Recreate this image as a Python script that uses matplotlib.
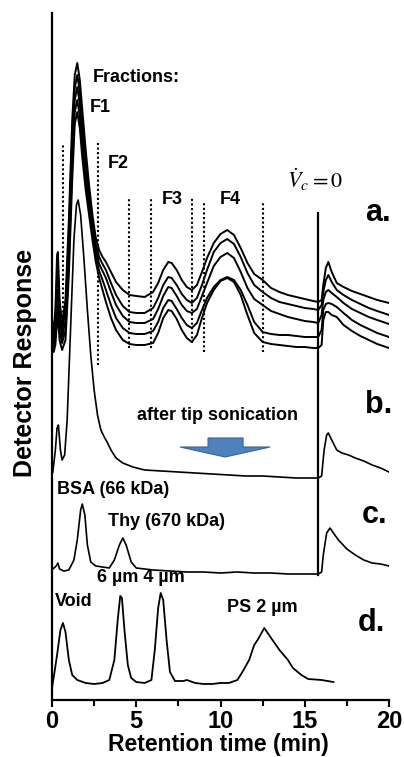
import matplotlib
matplotlib.use("Agg")
import matplotlib.pyplot as plt
from matplotlib.patches import Polygon

plt.rcParams['font.family'] = ['Liberation Sans', 'DejaVu Sans']
plt.rcParams['mathtext.fontset'] = 'stix'

# trace a: five repeated runs, stacked
a_t = [0.0, 0.1, 0.2, 0.3, 0.35, 0.45, 0.6, 0.8, 1.0, 1.2, 1.35, 1.5, 1.65, 1.8, 2.0, 2.2, 2.4, 2.6,
       2.8, 3.0, 3.2, 3.5, 3.8, 4.2, 4.6, 5.0, 5.5, 6.0, 6.3, 6.6, 6.9, 7.1, 7.4, 7.7, 8.0, 8.3, 8.6,
       8.9, 9.2, 9.6, 10.0, 10.4, 10.8, 11.2, 11.6, 12.0, 12.5, 13.0, 13.5, 14.0, 14.5, 15.0, 15.5,
       15.8, 16.0, 16.1, 16.25, 16.4, 16.6, 16.9, 17.3, 17.8, 18.3, 18.8, 19.3, 20.0]
a1 = [380, 370, 390, 445, 448, 400, 377, 400, 480, 580, 625, 637, 620, 590, 550, 515, 485, 462, 450,
      443, 438, 428, 418, 410, 405, 404, 403, 408, 417, 430, 438, 437, 430, 420, 413, 410, 415, 428,
      442, 457, 466, 470, 465, 452, 437, 426, 420, 412, 408, 405, 403, 401, 399, 398, 400, 415, 432,
      438, 428, 417, 413, 409, 406, 403, 400, 397]
a2 = [372, 362, 380, 425, 430, 390, 370, 390, 465, 565, 612, 625, 608, 578, 540, 507, 478, 456, 443,
      436, 430, 417, 405, 394, 388, 387, 387, 392, 402, 415, 423, 422, 415, 406, 400, 397, 402, 415,
      430, 448, 457, 461, 456, 443, 427, 415, 408, 402, 398, 396, 394, 392, 391, 390, 395, 408, 420,
      425, 418, 410, 405, 400, 396, 392, 389, 385]
a3 = [365, 357, 370, 405, 410, 380, 363, 380, 450, 550, 600, 613, 596, 566, 530, 500, 472, 450, 436,
      429, 422, 408, 395, 384, 378, 377, 377, 381, 391, 404, 413, 412, 404, 395, 389, 387, 391, 404,
      417, 434, 443, 447, 442, 428, 412, 401, 395, 389, 386, 383, 381, 379, 378, 377, 385, 400, 408,
      410, 407, 403, 397, 391, 387, 383, 380, 376]
a4 = [358, 352, 362, 390, 395, 370, 357, 370, 438, 535, 588, 600, 584, 554, 520, 492, 466, 444, 429,
      420, 410, 395, 382, 372, 367, 366, 366, 369, 378, 392, 400, 399, 391, 382, 375, 372, 377, 390,
      402, 413, 420, 423, 420, 410, 395, 378, 368, 366, 365, 365, 364, 363, 363, 363, 370, 390, 396,
      397, 396, 393, 387, 380, 375, 371, 367, 363]
a5 = [352, 348, 355, 380, 382, 360, 350, 360, 425, 520, 576, 588, 572, 542, 510, 485, 460, 438, 422,
      410, 398, 382, 370, 360, 356, 355, 355, 357, 367, 382, 390, 389, 381, 370, 362, 358, 365, 382,
      397, 410, 419, 422, 418, 405, 385, 367, 358, 356, 355, 354, 353, 353, 352, 352, 355, 380, 388,
      388, 385, 383, 375, 369, 364, 360, 356, 352]

# trace b: after tip sonication
b_t = [0.05, 0.2, 0.3, 0.38, 0.5, 0.6, 0.75, 0.9, 1.1, 1.3, 1.45, 1.55, 1.7, 1.9, 2.1, 2.3, 2.5, 2.7,
       2.9, 3.1, 3.3, 3.5, 3.8, 4.2, 4.8, 5.5, 6.5, 7.5, 8.5, 9.5, 10.5, 11.5, 12.5, 13.5, 14.5, 15.8,
       16.0, 16.15, 16.3, 16.4, 16.6, 16.9, 17.2, 17.6, 18.0, 18.5, 19.0, 19.5, 20.0]
b_y = [228, 250, 272, 275, 250, 240, 245, 280, 370, 460, 495, 500, 485, 440, 390, 345, 310, 285,
       270, 263, 257, 250, 242, 237, 233, 230, 229, 228, 227, 226, 225, 224, 224, 223, 222, 222,
       224, 250, 265, 267, 260, 250, 247, 245, 242, 239, 235, 232, 228]

# trace c: protein standards
c_t = [0.05, 0.25, 0.35, 0.45, 0.7, 1.0, 1.3, 1.5, 1.7, 1.8, 1.95, 2.1, 2.3, 2.6, 3.0, 3.4, 3.7, 4.0,
       4.2, 4.4, 4.7, 5.0, 6.0, 7.0, 8.0, 9.0, 10.0, 11.0, 12.0, 13.0, 14.0, 15.0, 15.8, 16.0, 16.1,
       16.3, 16.5, 16.7, 17.0, 17.5, 18.0, 18.5, 19.0, 19.5, 20.0]
c_y = [131, 134, 137, 131, 129, 130, 140, 160, 190, 196, 185, 155, 138, 134, 133, 132, 140, 155,
       162, 155, 138, 132, 130, 129, 128, 128, 127, 128, 127, 127, 126, 126, 126, 128, 145,
       167, 172, 167, 160, 151, 145, 140, 137, 136, 134]

# trace d: PS bead standards
d_t = [0.0, 0.15, 0.3, 0.5, 0.65, 0.8, 1.0, 1.2, 1.5, 2.0, 2.5, 3.0, 3.4, 3.7, 3.9, 4.05, 4.15, 4.3,
       4.5, 4.7, 5.0, 5.5, 5.9, 6.1, 6.3, 6.45, 6.6, 6.8, 7.0, 7.3, 7.8, 8.0, 8.5, 9.0, 9.5, 10.0,
       10.5, 11.0, 11.3, 11.7, 12.0, 12.2, 12.6, 13.0, 13.5, 14.0, 14.3, 14.8, 15.2, 16.0, 16.7]
d_y = [12, 28, 45, 70, 77, 68, 40, 25, 20, 17, 16, 17, 20, 40, 80, 104, 102, 70, 35, 22, 18, 17,
       20, 50, 92, 107, 100, 60, 28, 19, 19, 20, 17, 16, 16, 17, 17, 20, 28, 40, 55, 60, 72, 62,
       50, 40, 32, 25, 21, 20, 18]

# fraction cut positions (min) and their extents
cut_t = [0.65, 2.75, 4.55, 5.9, 8.3, 9.0, 12.5]
cut_lo = [360, 335, 352, 352, 357, 348, 348]
cut_hi = [557, 557, 503, 503, 503, 499, 499]
stop_t = 15.8

fig = plt.figure(figsize=(4.04, 7.57), dpi=100)
ax = fig.add_axes([52 / 404, 57 / 757, 337 / 404, 687 / 757])

for ys in [a1, a2, a3, a4, a5]:
    ax.plot(a_t, ys, color='black', lw=1.4)
ax.plot(b_t, b_y, color='black', lw=1.2)
ax.plot(c_t, c_y, color='black', lw=1.2)
ax.plot(d_t, d_y, color='black', lw=1.3)

for t, lo, hi in zip(cut_t, cut_lo, cut_hi):
    ax.plot([t, t], [lo, hi], color='black', lw=1.5, linestyle=(0, (1, 1.2)))
ax.plot([stop_t, stop_t], [125, 487], color='black', lw=1.6)

bold = dict(fontweight='bold', fontsize=13)
ax.text(2.43, 623, 'Fractions:', va='center', **bold)
ax.text(2.26, 593, 'F1', va='center', **bold)
ax.text(3.32, 537, 'F2', va='center', **bold)
ax.text(6.53, 500, 'F3', va='center', **bold)
ax.text(9.97, 500, 'F4', va='center', **bold)
ax.text(13.95, 520, r'$\dot{V}_c = 0$', va='center', fontsize=16)
ax.text(9.85, 285, 'after tip sonication', ha='center', va='center', **bold)
ax.text(0.3, 210, 'BSA (66 kDa)', va='center', **bold)
ax.text(3.32, 178, 'Thy (670 kDa)', va='center', **bold)
ax.text(2.67, 122, '6 µm 4 µm', va='center', **bold)
ax.text(0.18, 98, 'Void', va='center', **bold)
ax.text(10.39, 92, 'PS 2 µm', va='center', **bold)

for lab, x, y in [('a.', 18.58, 487), ('b.', 18.58, 295), ('c.', 18.4, 185), ('d.', 18.16, 77)]:
    ax.text(x, y, lab, va='center', fontweight='bold', fontsize=22)

arrow = Polygon([(9.26, 262), (11.34, 262), (11.34, 253), (12.94, 253), (10.27, 243),
                 (7.6, 253), (9.26, 253)], closed=True, facecolor='#4f81bd',
                edgecolor='#3a6494', lw=0.8)
ax.add_patch(arrow)

ax.set_xlim(0, 20)
ax.set_ylim(0, 687)
ax.set_xticks([0, 5, 10, 15, 20])
ax.set_xticks([2.5, 7.5, 12.5, 17.5], minor=True)
ax.set_yticks([])
ax.tick_params(axis='x', which='both', direction='out', width=1.5, labelsize=17, pad=2)
ax.tick_params(axis='x', which='major', length=5)
ax.tick_params(axis='x', which='minor', length=4)
for lbl in ax.get_xticklabels():
    lbl.set_fontweight('bold')
for s in ['top', 'right']:
    ax.spines[s].set_visible(False)
for s in ['left', 'bottom']:
    ax.spines[s].set_linewidth(1.6)

ax.set_xlabel('Retention time (min)', fontsize=16.5, fontweight='bold')
ax.xaxis.set_label_coords(0.495, -0.048)
fig.text(25 / 404, 1 - 363 / 757, 'Detector Response', rotation=90, ha='center', va='center',
         fontsize=18, fontweight='bold')

fig.savefig('out.png', dpi=100)
